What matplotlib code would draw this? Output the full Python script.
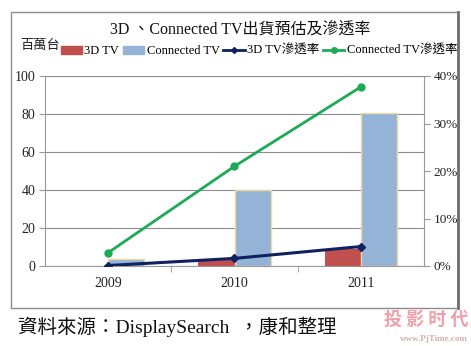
import matplotlib.pyplot as plt
import matplotlib.patches as mpatches
from matplotlib.lines import Line2D
import numpy as np

years = ['2009', '2010', '2011']
tv3d = [0.0, 3.5, 9.0]
connected = [3.8, 40.0, 80.5]
pen3d = [0.1, 1.6, 4.1]
pen_conn = [2.8, 21.0, 37.7]

left_ticks = [0, 20, 40, 60, 80, 100]
right_ticks = [0, 10, 20, 30, 40]

FONT = ['Liberation Serif', 'Noto Sans CJK TC', 'DejaVu Sans']
plt.rcParams['font.family'] = FONT

W, H = 471, 346
fig = plt.figure(figsize=(W / 100, H / 100), dpi=100)
fig.patch.set_facecolor('white')

# chart frame
frame = mpatches.Rectangle((11 / W, 1 - 308 / H), 447 / W, 296 / H, transform=fig.transFigure,
                           fill=False, edgecolor='#8c8c8c', linewidth=1.0)
fig.add_artist(frame)
fig.add_artist(Line2D([458 / W, 458 / W], [1 - 308 / H, 1 - 12 / H], transform=fig.transFigure,
                      color='#6e6e6e', linewidth=2.0))

ax = fig.add_axes([45 / W, 1 - 266 / H, 379 / W, 190 / H])
x = np.arange(len(years))
w = 0.286
ax.bar(x - w / 2, tv3d, w, color='#C0504D', edgecolor='none', zorder=2)
ax.bar(x + w / 2, connected, w, color='#95B3D7', edgecolor='#EED9A0', linewidth=1.0, zorder=2)

ax.set_xlim(-0.5, 2.5)
ax.set_ylim(0, 100)
ax.set_yticks(left_ticks)
ax.set_yticklabels([str(v) for v in left_ticks], fontsize=10, color='#222222')
ax.set_xticks(x)
ax.set_xticklabels(years, fontsize=10, color='#222222')
ax.tick_params(axis='x', length=0, pad=8)
ax.set_xticks([0.5, 1.5], minor=True)
ax.tick_params(axis='x', which='minor', length=4, color='#999999', direction='out')
ax.tick_params(axis='y', length=4, color='#999999', pad=3)
ax.grid(axis='y', color='#8c8c8c', linewidth=0.8, zorder=0)
ax.set_axisbelow(True)
for s in ['top', 'right']:
    ax.spines[s].set_visible(False)
ax.spines['left'].set_color('#999999')
ax.spines['bottom'].set_color('#999999')

ax2 = ax.twinx()
ax2.plot(x, pen3d, color='#0F2160', linewidth=2.2, marker='D', markersize=4, zorder=4)
ax2.plot(x, pen_conn, color='#1DAA55', linewidth=2.0, marker='o', markersize=5, zorder=4)
ax2.set_ylim(0, 40)
ax2.set_yticks(right_ticks)
ax2.set_yticklabels([f'{v}%' for v in right_ticks], fontsize=9.5, color='#222222')
ax2.tick_params(axis='y', length=4, color='#999999', pad=3)
for s in ['top', 'left', 'bottom']:
    ax2.spines[s].set_visible(False)
ax2.spines['right'].set_color('#999999')

fig.text(240 / W, 1 - 30 / H, '3D 、Connected TV出貨預估及滲透率', ha='center', va='center',
         fontsize=11.5, color='#111111')
fig.text(20 / W, 1 - 46 / H, '百萬台', ha='left', va='center', fontsize=9.5, color='#222222')

handles = [mpatches.Patch(color='#C0504D'),
           mpatches.Patch(color='#95B3D7'),
           Line2D([], [], color='#0F2160', linewidth=2, marker='D', markersize=3),
           Line2D([], [], color='#1DAA55', linewidth=2, marker='o', markersize=4)]
labels = ['3D TV', 'Connected TV', '3D TV滲透率', 'Connected TV滲透率']
fig.legend(handles, labels, loc='center', bbox_to_anchor=(259 / W, 1 - 51 / H), ncol=4,
           frameon=False, fontsize=9, handlelength=1.7, handleheight=0.6, handletextpad=0.2,
           columnspacing=0.3, borderpad=0)

fig.text(18 / W, 1 - 327 / H, '資料來源：DisplaySearch  ，康和整理', ha='left', va='center',
         fontsize=14, color='#111111')
fig.text(468 / W, 1 - 319 / H, '投 影 时 代', ha='right', va='center', fontsize=13,
         color='#F0A0A8', fontweight='bold', family=['Noto Sans CJK SC', 'DejaVu Sans'])
fig.text(468 / W, 1 - 339 / H, 'www.PjTime.com', ha='right', va='center', fontsize=6.5,
         color='#D0B0B0', fontweight='bold')

fig.savefig('out.png', dpi=100, facecolor='white')
